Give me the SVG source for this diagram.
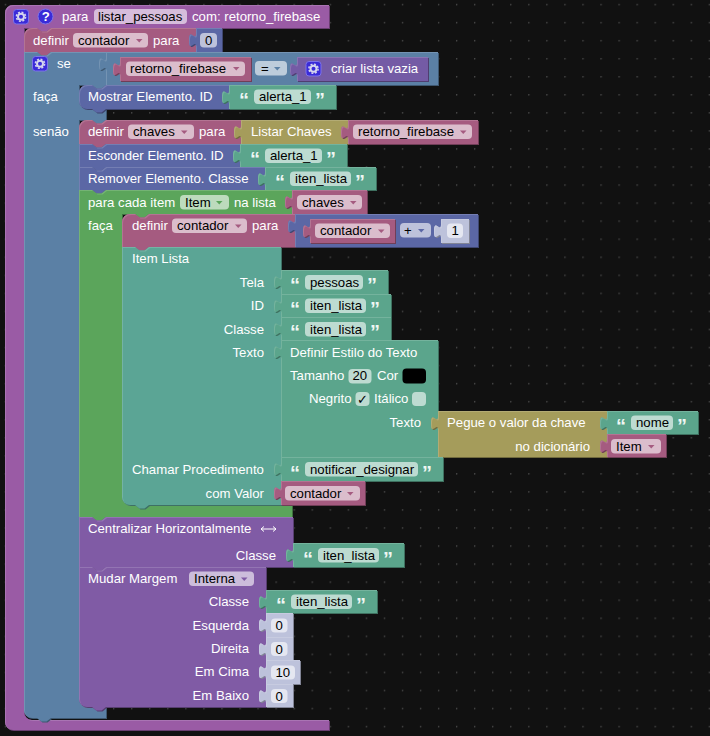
<svg xmlns="http://www.w3.org/2000/svg" width="710" height="736" viewBox="0 0 710 736">
<style>
text{font-family:"Liberation Sans",Arial,sans-serif;font-size:13.2px;fill:#fff}
text.d{fill:#000}
text.e{text-anchor:end}
text.q{font-size:20px;font-weight:bold;fill:#eef6f3}
.b{filter:url(#bevel)}
.f{fill:#fff;fill-opacity:.6}
.pr{fill:#9a5ba5}.va{fill:#a55b80}.lo{fill:#5b80a5}.ma{fill:#5b67a5}.sh{fill:#bdc2db}.tx{fill:#5ba58c}.li{fill:#745ba5}
.gr{fill:#5ba55b}.it{fill:#5ba595}.ye{fill:#a59c5b}.pu{fill:#805ba5}
</style>
<defs>
<pattern id="dots" patternUnits="userSpaceOnUse" width="18.05" height="18.05"><circle cx="5.5" cy="4.6" r=".55" fill="#888"/></pattern>
<filter id="bevel" color-interpolation-filters="sRGB" x="-10%" y="-10%" width="120%" height="120%">
<feOffset in="SourceGraphic" dx="1" dy="1" result="o"/>
<feColorMatrix in="o" type="matrix" values=".68 0 0 0 0 0 .68 0 0 0 0 0 .68 0 0 0 0 0 1 0" result="s"/>
<feComposite in="SourceGraphic" in2="o" operator="out" result="e"/>
<feColorMatrix in="e" type="matrix" values=".85 0 0 0 .15 0 .85 0 0 .15 0 0 .85 0 .15 0 0 0 1 0" result="h"/>
<feMerge><feMergeNode in="s"/><feMergeNode in="SourceGraphic"/><feMergeNode in="h"/></feMerge>
</filter>
<path id="ar" d="M0,0h6.5l-3.25,3.5z"/>
<g id="gear">
<rect x=".5" y=".5" width="15" height="14.5" rx="3" fill="#3a2bd8" stroke="#7d73ea"/>
<circle cx="8" cy="7.7" r="3" fill="none" stroke="#d5d6ee" stroke-width="2"/>
<circle cx="8" cy="7.7" r="4.6" fill="none" stroke="#d5d6ee" stroke-width="1.5" stroke-dasharray="2 1.6"/>
</g>
</defs>
<rect width="710" height="736" fill="#111"/>
<rect width="710" height="736" fill="url(#dots)"/>

<g id="procedure">
<path class="b pr" d="M5,13a8,8 0 0 1 8,-8H329V28H51l-4.5,3.6h-5l-4.5,-3.6H24V712a8,8 0 0 0 8,8H329V730H13a8,8 0 0 1 -8,-8Z"/>
<use href="#gear" x="13" y="9"/>
<circle cx="45.5" cy="16.5" r="7.5" fill="#3a2bd8" stroke="#7d73ea"/>
<text x="41.800" y="21" style="font-weight:bold">?</text>
<text x="62" y="21">para</text>
<rect class="f" x="94" y="9" width="93" height="15" rx="4"/>
<text class="d" x="98" y="21">listar_pessoas</text>
<text x="192" y="21">com: retorno_firebase</text>
</g>

<g id="def-contador">
<path class="b va" d="M24,36a8,8 0 0 1 8,-8H37l4.5,3.6h5l4.5,-3.6H196V52H51l-4.5,3.6h-5l-4.5,-3.6H24Z"/>
<text x="33" y="45">definir</text>
<rect class="f" x="73" y="33" width="75" height="14.5" rx="4"/>
<text class="d" x="78" y="45">contador</text>
<use href="#ar" class="va" x="136" y="39"/>
<text x="153" y="45">para</text>
</g>
<g id="num-0-top">
<path class="b ma" d="M196,28H222V52H196V47c0,-9 -7,7 -7,-6.75s7,2.25 7,-6.75Z"/>
<rect class="f" x="200" y="33" width="17" height="14.5" rx="4"/>
<text class="d" x="205" y="45">0</text>
</g>

<g id="se">
<path class="b lo" d="M24,52H37l4.5,3.6h5l4.5,-3.6H106V85l-4.5,3.6h-5l-4.5,-3.6H79V101a8,8 0 0 0 8,8H106V120l-4.5,3.6h-5l-4.5,-3.6H79V699a8,8 0 0 0 8,8H106V718H51l-4.5,3.6h-5l-4.5,-3.6H32a8,8 0 0 1 -8,-8Z"/>
<use href="#gear" x="32" y="56"/>
<text x="57" y="68">se</text>
<text x="33" y="101">faça</text>
<text x="33" y="136">senão</text>
</g>
<g id="compare">
<path class="b lo" d="M106,52H438V85H106V71c0,-9 -7,7 -7,-6.75s7,2.25 7,-6.75Z"/>
<rect class="f" x="255" y="61" width="32" height="14.500" rx="4"/>
<text class="d" x="261" y="73">=</text>
<use href="#ar" class="lo" x="274" y="67"/>
</g>
<g id="var-retorno-1">
<path class="b va" d="M120,57H251V81H120V76c0,-9 -7,7 -7,-6.75s7,2.25 7,-6.75Z"/>
<rect class="f" x="126" y="61.500" width="119" height="14.500" rx="4"/>
<text class="d" x="130" y="73">retorno_firebase</text>
<use href="#ar" class="va" x="233" y="67"/>
</g>
<g id="lista-vazia">
<path class="b li" d="M297,57H428V81H297V76c0,-9 -7,7 -7,-6.75s7,2.25 7,-6.75Z"/>
<use href="#gear" x="305.500" y="61"/>
<text x="331" y="73">criar lista vazia</text>
</g>

<g id="mostrar">
<path class="b ma" d="M79,93a8,8 0 0 1 8,-8H92l4.500,3.600h5l4.500,-3.600H229V109H106l-4.500,3.600h-5l-4.500,-3.600H87a8,8 0 0 1 -8,-8Z"/>
<text x="88" y="101">Mostrar Elemento. ID</text>
</g>
<g id="txt-alerta-1">
<path class="b tx" d="M229,85H336V109H229V104c0,-9 -7,7 -7,-6.75s7,2.25 7,-6.75Z"/>
<text class="q" x="239" y="106.500">“</text>
<rect class="f" x="254" y="89.500" width="57" height="14.500" rx="4"/>
<text class="d" x="259" y="101">alerta_1</text>
<text class="q" x="315" y="106.500">”</text>
</g>

<g id="def-chaves">
<path class="b va" d="M79,128a8,8 0 0 1 8,-8H92l4.500,3.600h5l4.500,-3.600H241V144H106l-4.500,3.600h-5l-4.500,-3.600H79Z"/>
<text x="88" y="136">definir</text>
<rect class="f" x="128" y="124.500" width="66" height="14.500" rx="4"/>
<text class="d" x="133" y="136">chaves</text>
<use href="#ar" class="va" x="181" y="130.500"/>
<text x="199" y="136">para</text>
</g>
<g id="listar-chaves">
<path class="b ye" d="M241,120H348V144H241V139c0,-9 -7,7 -7,-6.75s7,2.25 7,-6.75Z"/>
<text x="251" y="136">Listar Chaves</text>
</g>
<g id="var-retorno-2">
<path class="b va" d="M348,120H478V144H348V139c0,-9 -7,7 -7,-6.75s7,2.25 7,-6.75Z"/>
<rect class="f" x="353" y="124.500" width="119" height="14.500" rx="4"/>
<text class="d" x="358" y="136">retorno_firebase</text>
<use href="#ar" class="va" x="460" y="130.500"/>
</g>

<g id="esconder">
<path class="b ma" d="M79,144H92l4.500,3.600h5l4.500,-3.600H240V167H106l-4.500,3.600h-5l-4.500,-3.600H79Z"/>
<text x="88" y="160">Esconder Elemento. ID</text>
</g>
<g id="txt-alerta-2">
<path class="b tx" d="M240,144H347V167H240V163c0,-9 -7,7 -7,-6.75s7,2.25 7,-6.75Z"/>
<text class="q" x="250" y="165.500">“</text>
<rect class="f" x="265" y="148.500" width="57" height="14.500" rx="4"/>
<text class="d" x="270" y="160">alerta_1</text>
<text class="q" x="326" y="165.500">”</text>
</g>

<g id="remover">
<path class="b ma" d="M79,167H92l4.500,3.600h5l4.500,-3.600H265V190H106l-4.500,3.600h-5l-4.500,-3.600H79Z"/>
<text x="88" y="183">Remover Elemento. Classe</text>
</g>
<g id="txt-iten-1">
<path class="b tx" d="M265,167H376V190H265V186c0,-9 -7,7 -7,-6.75s7,2.25 7,-6.75Z"/>
<text class="q" x="275" y="188.500">“</text>
<rect class="f" x="290" y="171.500" width="61" height="14.500" rx="4"/>
<text class="d" x="295" y="183">iten_lista</text>
<text class="q" x="355" y="188.500">”</text>
</g>

<g id="para-cada">
<path class="b gr" d="M79,190H92l4.500,3.600h5l4.500,-3.600H292V214H149l-4.500,3.600h-5l-4.500,-3.600H122V497a8,8 0 0 0 8,8H292V517H106l-4.500,3.600h-5l-4.500,-3.600H79Z"/>
<text x="88" y="207">para cada item</text>
<rect class="f" x="180" y="195" width="49" height="14.500" rx="4"/>
<text class="d" x="185" y="207">Item</text>
<use href="#ar" class="gr" x="216" y="201"/>
<text x="234" y="207">na lista</text>
<text x="88" y="230">faça</text>
</g>
<g id="var-chaves">
<path class="b va" d="M292,190H367V214H292V209c0,-9 -7,7 -7,-6.75s7,2.25 7,-6.75Z"/>
<rect class="f" x="297" y="195" width="65" height="14.500" rx="4"/>
<text class="d" x="302" y="207">chaves</text>
<use href="#ar" class="va" x="350" y="201"/>
</g>

<g id="def-contador-2">
<path class="b va" d="M122,222a8,8 0 0 1 8,-8H135l4.500,3.600h5l4.500,-3.600H295V247H149l-4.500,3.600h-5l-4.500,-3.600H122Z"/>
<text x="132" y="230">definir</text>
<rect class="f" x="172" y="218.500" width="75" height="14.500" rx="4"/>
<text class="d" x="177" y="230">contador</text>
<use href="#ar" class="va" x="235" y="224.500"/>
<text x="252" y="230">para</text>
</g>
<g id="soma">
<path class="b ma" d="M295,214H478V247H295V233c0,-9 -7,7 -7,-6.75s7,2.25 7,-6.75Z"/>
<rect class="f" x="400" y="223" width="31" height="14.500" rx="4"/>
<text class="d" x="404" y="235">+</text>
<use href="#ar" class="ma" x="418" y="229"/>
</g>
<g id="var-contador-2">
<path class="b va" d="M310,219H395V243H310V238c0,-9 -7,7 -7,-6.75s7,2.25 7,-6.75Z"/>
<rect class="f" x="315" y="223.500" width="75" height="14.500" rx="4"/>
<text class="d" x="320" y="235">contador</text>
<use href="#ar" class="va" x="378" y="229.500"/>
</g>
<g id="num-1">
<path class="b sh" d="M441,219H469V243H441V238c0,-9 -7,7 -7,-6.75s7,2.25 7,-6.75Z"/>
<rect class="f" x="447" y="223.500" width="16" height="14.500" rx="4"/>
<text class="d" x="451.500" y="235">1</text>
</g>

<g id="item-lista">
<path class="b it" d="M122,247H135l4.500,3.600h5l4.500,-3.600H281V505H149l-4.500,3.600h-5l-4.500,-3.600H130a8,8 0 0 1 -8,-8Z"/>
<text x="132" y="263">Item Lista</text>
<text class="e" x="264" y="287">Tela</text>
<text class="e" x="264" y="310">ID</text>
<text class="e" x="264" y="334">Classe</text>
<text class="e" x="264" y="357">Texto</text>
<text x="132" y="474">Chamar Procedimento</text>
<text class="e" x="264" y="498">com Valor</text>
</g>
<g id="txt-pessoas">
<path class="b tx" d="M281,270H388V294H281V289c0,-9 -7,7 -7,-6.75s7,2.25 7,-6.75Z"/>
<text class="q" x="290" y="292">“</text>
<rect class="f" x="305" y="275" width="58" height="14.500" rx="4"/>
<text class="d" x="310" y="287">pessoas</text>
<text class="q" x="367" y="292">”</text>
</g>
<g id="txt-iten-2">
<path class="b tx" d="M281,294H391V317H281V313c0,-9 -7,7 -7,-6.75s7,2.25 7,-6.75Z"/>
<text class="q" x="290" y="315.500">“</text>
<rect class="f" x="305" y="298.500" width="61" height="14.500" rx="4"/>
<text class="d" x="310" y="310">iten_lista</text>
<text class="q" x="370" y="315.500">”</text>
</g>
<g id="txt-iten-3">
<path class="b tx" d="M281,317H391V340H281V336c0,-9 -7,7 -7,-6.75s7,2.25 7,-6.75Z"/>
<text class="q" x="290" y="339">“</text>
<rect class="f" x="305" y="322" width="61" height="14.500" rx="4"/>
<text class="d" x="310" y="334">iten_lista</text>
<text class="q" x="370" y="339">”</text>
</g>

<g id="estilo">
<path class="b tx" d="M281,340H438V457H281V359c0,-9 -7,7 -7,-6.75s7,2.25 7,-6.75Z"/>
<text x="290" y="357">Definir Estilo do Texto</text>
<text x="290" y="380">Tamanho</text>
<rect class="f" x="348.500" y="369" width="23" height="14.500" rx="4"/>
<text class="d" x="352.500" y="380">20</text>
<text x="377" y="380">Cor</text>
<rect x="402.500" y="368.500" width="23.500" height="15" rx="4" fill="#000"/>
<text x="309" y="403">Negrito</text>
<rect class="f" x="355.500" y="392" width="14" height="14" rx="4"/>
<text class="d" x="357" y="404">✓</text>
<text x="374" y="403">Itálico</text>
<rect class="f" x="412" y="392" width="14" height="14" rx="4"/>
<text class="e" x="421" y="427">Texto</text>
</g>
<g id="pegue">
<path class="b ye" d="M438,411H607V457H438V430c0,-9 -7,7 -7,-6.75s7,2.25 7,-6.75Z"/>
<text x="447" y="427">Pegue o valor da chave</text>
<text class="e" x="590" y="451">no dicionário</text>
</g>
<g id="txt-nome">
<path class="b tx" d="M607,411H698V434H607V430c0,-9 -7,7 -7,-6.75s7,2.25 7,-6.75Z"/>
<text class="q" x="616" y="432.500">“</text>
<rect class="f" x="631" y="415.500" width="42" height="14.500" rx="4"/>
<text class="d" x="636" y="427">nome</text>
<text class="q" x="677" y="432.500">”</text>
</g>
<g id="var-item">
<path class="b va" d="M607,434H666V457H607V453c0,-9 -7,7 -7,-6.75s7,2.25 7,-6.75Z"/>
<rect class="f" x="611" y="439" width="50" height="14.500" rx="4"/>
<text class="d" x="616" y="451">Item</text>
<use href="#ar" class="va" x="648" y="445"/>
</g>
<g id="txt-notificar">
<path class="b tx" d="M281,457H443V481H281V476c0,-9 -7,7 -7,-6.75s7,2.25 7,-6.75Z"/>
<text class="q" x="290" y="479.500">“</text>
<rect class="f" x="305" y="462" width="113" height="14.500" rx="4"/>
<text class="d" x="310" y="474">notificar_designar</text>
<text class="q" x="422" y="479.500">”</text>
</g>
<g id="var-contador-3">
<path class="b va" d="M281,481H365V505H281V500c0,-9 -7,7 -7,-6.75s7,2.25 7,-6.75Z"/>
<rect class="f" x="285" y="486" width="75" height="14.500" rx="4"/>
<text class="d" x="290" y="498">contador</text>
<use href="#ar" class="va" x="347" y="492"/>
</g>

<g id="centralizar">
<path class="b pu" d="M79,517H92l4.500,3.600h5l4.500,-3.600H293V567H106l-4.500,3.600h-5l-4.500,-3.600H79Z"/>
<text x="88" y="533">Centralizar Horizontalmente</text>
<path d="M261,529H276M264,526.500L261,529L264,531.500M273,526.500L276,529L273,531.500" fill="none" stroke="#fff" stroke-width="1"/>
<text class="e" x="276" y="560">Classe</text>
</g>
<g id="txt-iten-4">
<path class="b tx" d="M293,543H404V567H293V562c0,-9 -7,7 -7,-6.75s7,2.25 7,-6.75Z"/>
<text class="q" x="303" y="565.500">“</text>
<rect class="f" x="318" y="548" width="61" height="14.500" rx="4"/>
<text class="d" x="323" y="560">iten_lista</text>
<text class="q" x="383" y="565.500">”</text>
</g>

<g id="mudar-margem">
<path class="b pu" d="M79,567H92l4.500,3.600h5l4.500,-3.600H266V707H106l-4.500,3.600h-5l-4.500,-3.600H87a8,8 0 0 1 -8,-8Z"/>
<text x="88" y="583">Mudar Margem</text>
<rect class="f" x="189" y="571.500" width="65" height="14.500" rx="4"/>
<text class="d" x="194" y="583">Interna</text>
<use href="#ar" class="pu" x="241" y="577.500"/>
<text class="e" x="249" y="606">Classe</text>
<text class="e" x="249" y="630">Esquerda</text>
<text class="e" x="249" y="653">Direita</text>
<text class="e" x="249" y="676">Em Cima</text>
<text class="e" x="249" y="700">Em Baixo</text>
</g>
<g id="txt-iten-5">
<path class="b tx" d="M266,590H377V613H266V609c0,-9 -7,7 -7,-6.75s7,2.25 7,-6.75Z"/>
<text class="q" x="276" y="611.500">“</text>
<rect class="f" x="291" y="594.500" width="61" height="14.500" rx="4"/>
<text class="d" x="296" y="606">iten_lista</text>
<text class="q" x="356" y="611.500">”</text>
</g>
<g id="num-esquerda">
<path class="b sh" d="M266,613H293V637H266V632c0,-9 -7,7 -7,-6.75s7,2.25 7,-6.75Z"/>
<rect class="f" x="271" y="618.500" width="16.500" height="14" rx="4"/>
<text class="d" x="275.500" y="630">0</text>
</g>
<g id="num-direita">
<path class="b sh" d="M266,637H293V660H266V656c0,-9 -7,7 -7,-6.75s7,2.25 7,-6.75Z"/>
<rect class="f" x="271" y="642" width="16.500" height="14" rx="4"/>
<text class="d" x="275.500" y="653.500">0</text>
</g>
<g id="num-cima">
<path class="b sh" d="M266,660H300V684H266V679c0,-9 -7,7 -7,-6.75s7,2.25 7,-6.75Z"/>
<rect class="f" x="271" y="665.500" width="24" height="14" rx="4"/>
<text class="d" x="275.500" y="677">10</text>
</g>
<g id="num-baixo">
<path class="b sh" d="M266,684H293V707H266V703c0,-9 -7,7 -7,-6.75s7,2.25 7,-6.75Z"/>
<rect class="f" x="271" y="689" width="16.500" height="14" rx="4"/>
<text class="d" x="275.500" y="700.500">0</text>
</g>
</svg>
